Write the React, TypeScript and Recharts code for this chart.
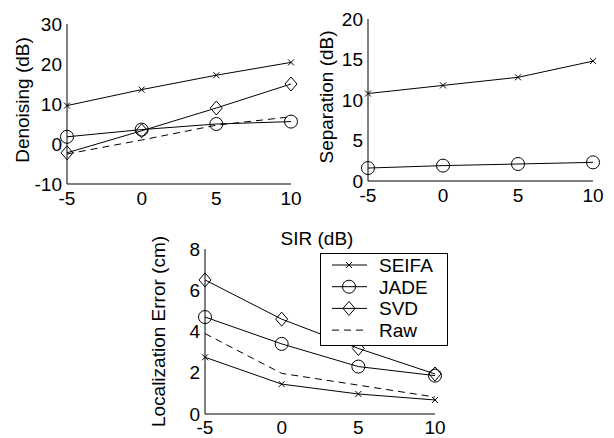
import React from "react";
import { LineChart, Line, XAxis, YAxis, Legend } from "recharts";

const sir = [-5, 0, 5, 10];

const denoisingSeifa = [9.6, 13.6, 17.2, 20.4];
const denoisingJade = [1.8, 3.6, 5.0, 5.6];
const denoisingSvd = [-2.2, 3.3, 9.0, 15.0];
const denoisingRaw = [-2.5, 1.0, 4.7, 6.8];

const separationSeifa = [10.8, 11.8, 12.8, 14.8];
const separationJade = [1.6, 1.9, 2.1, 2.3];

const locSeifa = [2.75, 1.45, 0.97, 0.68];
const locJade = [4.7, 3.4, 2.3, 1.86];
const locSvd = [6.5, 4.6, 3.18, 1.94];
const locRaw = [3.9, 1.97, 1.4, 0.82];

const legendNames = ["SEIFA", "JADE", "SVD", "Raw"];

const denoisingData = sir.map((s, i) => ({
  sir: s,
  seifa: denoisingSeifa[i],
  jade: denoisingJade[i],
  svd: denoisingSvd[i],
  raw: denoisingRaw[i],
}));
const separationData = sir.map((s, i) => ({ sir: s, seifa: separationSeifa[i], jade: separationJade[i] }));
const locData = sir.map((s, i) => ({
  sir: s,
  seifa: locSeifa[i],
  jade: locJade[i],
  svd: locSvd[i],
  raw: locRaw[i],
}));

const FONT = "'Liberation Sans', Arial, sans-serif";
const tickStyle = { fill: "#000", fontSize: 19, fontFamily: FONT };

const crossDot = (p: any) => {
  const { cx, cy, key } = p;
  return (
    <path
      key={key}
      d={`M${cx - 3},${cy - 3}L${cx + 3},${cy + 3}M${cx - 3},${cy + 3}L${cx + 3},${cy - 3}`}
      stroke="#000"
      strokeWidth={1}
      fill="none"
    />
  );
};
const circleDot = (p: any) => {
  const { cx, cy, key } = p;
  return <circle key={key} cx={cx} cy={cy} r={6.5} stroke="#000" strokeWidth={1} fill="none" />;
};
const diamondDot = (p: any) => {
  const { cx, cy, key } = p;
  return (
    <path
      key={key}
      d={`M${cx},${cy - 7}L${cx + 6},${cy}L${cx},${cy + 7}L${cx - 6},${cy}Z`}
      stroke="#000"
      strokeWidth={1}
      fill="none"
    />
  );
};

const markers = [
  (x: number, y: number) => crossDot({ cx: x, cy: y, key: "m0" }),
  (x: number, y: number) => circleDot({ cx: x, cy: y, key: "m1" }),
  (x: number, y: number) => diamondDot({ cx: x, cy: y, key: "m2" }),
  null,
];

function LegendBox() {
  return (
    <svg width={129} height={94} style={{ display: "block" }}>
      <rect x={0.5} y={0.5} width={127} height={92} fill="#fff" stroke="#000" strokeWidth={1} />
      {legendNames.map((name, i) => {
        const y = 12 + i * 21.7;
        const m = markers[i];
        return (
          <g key={name}>
            <line
              x1={12}
              x2={47}
              y1={y}
              y2={y}
              stroke="#000"
              strokeWidth={1}
              strokeDasharray={m ? undefined : "7 5"}
            />
            {m ? m(29, y) : null}
            <text x={59} y={y + 6.8} fontSize={19} fontFamily={FONT} fill="#000">
              {name}
            </text>
          </g>
        );
      })}
    </svg>
  );
}

const xAxisProps = {
  dataKey: "sir",
  type: "number" as const,
  domain: [-5, 10],
  ticks: sir,
  tickLine: false,
  tickSize: 6,
  tickMargin: 2,
  axisLine: { stroke: "#000" },
  tick: tickStyle,
  interval: 0 as const,
};

export default function App() {
  return (
    <div style={{ position: "absolute", left: 0, top: 0, width: 614, height: 438, background: "#fff" }}>
      <div style={{ position: "absolute", left: 0, top: 0 }}>
        <LineChart width={310} height={230} data={denoisingData} margin={{ top: 24, right: 19, bottom: 16, left: 0 }}>
          <XAxis {...xAxisProps} height={30} />
          <YAxis
            width={67}
            domain={[-10, 30]}
            ticks={[-10, 0, 10, 20, 30]}
            tickLine={false}
            tickSize={5}
            tickMargin={0}
            axisLine={{ stroke: "#000" }}
            tick={tickStyle}
            interval={0}
            label={{
              value: "Denoising (dB)",
              angle: -90,
              position: "insideLeft",
              offset: 22,
              dy: -4,
              style: { textAnchor: "middle", fill: "#000", fontSize: 19, fontFamily: FONT },
            }}
          />
          <Line dataKey="seifa" stroke="#000" strokeWidth={1} dot={crossDot} isAnimationActive={false} />
          <Line dataKey="jade" stroke="#000" strokeWidth={1} dot={circleDot} isAnimationActive={false} />
          <Line dataKey="svd" stroke="#000" strokeWidth={1} dot={diamondDot} isAnimationActive={false} />
          <Line dataKey="raw" stroke="#000" strokeWidth={1} strokeDasharray="7 5" dot={false} isAnimationActive={false} />
        </LineChart>
      </div>

      <div style={{ position: "absolute", left: 310, top: 0 }}>
        <LineChart width={304} height={230} data={separationData} margin={{ top: 19, right: 21, bottom: 19, left: 0 }}>
          <XAxis {...xAxisProps} height={30} />
          <YAxis
            width={58}
            domain={[0, 20]}
            ticks={[0, 5, 10, 15, 20]}
            tickLine={false}
            tickSize={5}
            tickMargin={0}
            axisLine={{ stroke: "#000" }}
            tick={tickStyle}
            interval={0}
            label={{
              value: "Separation (dB)",
              angle: -90,
              position: "insideLeft",
              offset: 16,
              dy: -3,
              style: { textAnchor: "middle", fill: "#000", fontSize: 19, fontFamily: FONT },
            }}
          />
          <Line dataKey="seifa" stroke="#000" strokeWidth={1} dot={crossDot} isAnimationActive={false} />
          <Line dataKey="jade" stroke="#000" strokeWidth={1} dot={circleDot} isAnimationActive={false} />
        </LineChart>
      </div>

      <div
        style={{
          position: "absolute",
          left: 267,
          top: 229,
          width: 100,
          textAlign: "center",
          fontSize: 19,
          lineHeight: "19px",
          fontFamily: FONT,
          color: "#000",
        }}
      >
        SIR (dB)
      </div>

      <div style={{ position: "absolute", left: 150, top: 230 }}>
        <LineChart width={314} height={208} data={locData} margin={{ top: 19, right: 29, bottom: 0, left: 0 }}>
          <XAxis {...xAxisProps} height={24} tickSize={5} tickMargin={2} />
          <YAxis
            width={55}
            domain={[0, 8]}
            ticks={[0, 2, 4, 6, 8]}
            tickLine={false}
            tickSize={5}
            tickMargin={0}
            axisLine={{ stroke: "#000" }}
            tick={tickStyle}
            interval={0}
            label={{
              value: "Localization Error (cm)",
              angle: -90,
              position: "insideLeft",
              offset: 8,
              style: { textAnchor: "middle", fill: "#000", fontSize: 19, fontFamily: FONT },
            }}
          />
          <Legend
            layout="vertical"
            align="center"
            verticalAlign="middle"
            content={() => <LegendBox />}
            wrapperStyle={{ left: 170, top: 23, width: 129, height: 94 }}
          />
          <Line dataKey="seifa" stroke="#000" strokeWidth={1} dot={crossDot} isAnimationActive={false} />
          <Line dataKey="jade" stroke="#000" strokeWidth={1} dot={circleDot} isAnimationActive={false} />
          <Line dataKey="svd" stroke="#000" strokeWidth={1} dot={diamondDot} isAnimationActive={false} />
          <Line dataKey="raw" stroke="#000" strokeWidth={1} strokeDasharray="7 5" dot={false} isAnimationActive={false} />
        </LineChart>
      </div>
    </div>
  );
}
